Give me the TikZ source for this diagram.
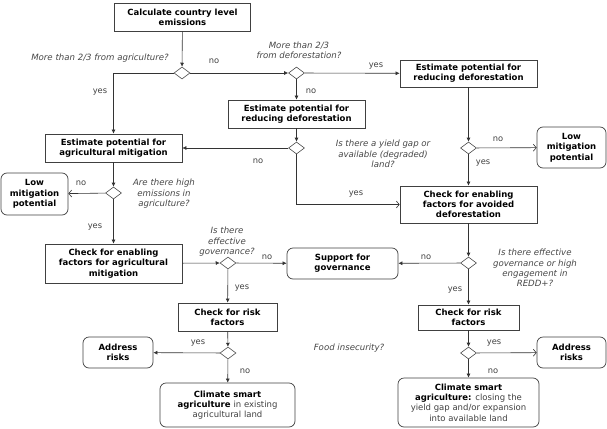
\documentclass[tikz,border=0pt]{standalone}
\usepackage{fontspec}
\setmainfont{DejaVu Sans}
\usetikzlibrary{shapes.geometric, arrows.meta, positioning}

\begin{document}
\begin{tikzpicture}[
  x=1pt, y=-1pt,
  box/.style={draw=black!75, line width=0.7pt, fill=white, align=center, inner sep=1pt,
    font=\bfseries\fontsize{8.5}{10.3}\selectfont},
  rbox/.style={box, rounded corners=6pt},
  dec/.style={diamond, draw=black!70, line width=0.6pt, fill=white, inner sep=0pt,
    minimum width=16pt, minimum height=12pt},
  q/.style={font=\itshape\fontsize{8.6}{10.4}\selectfont, text=black!72, align=center},
  lab/.style={font=\fontsize{8.3}{9}\selectfont, text=black!75},
  arr/.style={draw=black!80, line width=0.6pt, -{Latex[length=4pt,width=4pt]}},
  oarr/.style={draw=black!80, line width=0.6pt, -{Straight Barb[length=3pt,width=7pt]}}
  ]
  \useasboundingbox (0,0) rectangle (607,428);
  % boxes
  \node[box, minimum width=136pt, minimum height=28pt] (calc) at (182.5,17) {Calculate country level\\emissions};
  \node[box, minimum width=137pt, minimum height=27pt] (estR) at (468.5,73.5) {Estimate potential for\\reducing deforestation};
  \node[box, minimum width=137pt, minimum height=28pt] (estM) at (296.5,114) {Estimate potential for\\reducing deforestation};
  \node[box, minimum width=137pt, minimum height=28pt] (agri) at (113.5,148) {Estimate potential for\\agricultural mitigation};
  \node[box, minimum width=137pt, minimum height=37pt] (checkAD) at (468.5,204.5) {Check for enabling\\factors for avoided\\deforestation};
  \node[box, minimum width=137pt, minimum height=39pt] (checkAM) at (113.5,263.5) {Check for enabling\\factors for agricultural\\mitigation};
  \node[box, minimum width=99pt, minimum height=28pt] (checkRL) at (227.5,317) {Check for risk\\factors};
  \node[box, minimum width=101pt, minimum height=25pt] (checkRR) at (468.5,317.5) {Check for risk\\factors};
  \node[rbox, minimum width=69pt, minimum height=41pt] (lowR) at (571.5,147.5) {Low\\mitigation\\potential};
  \node[rbox, minimum width=67pt, minimum height=42pt] (lowL) at (34.5,194) {Low\\mitigation\\potential};
  \node[rbox, minimum width=111pt, minimum height=31pt] (support) at (342.5,263.5) {Support for\\governance};
  \node[rbox, minimum width=70pt, minimum height=31pt] (addrL) at (118,352.5) {Address\\risks};
  \node[rbox, minimum width=69pt, minimum height=31pt] (addrR) at (571.5,352.5) {Address\\risks};
  \node[rbox, minimum width=135pt, minimum height=44pt] (cliL) at (227.5,405)
    {Climate smart\\agriculture {\mdseries\color{black!75} in existing}\\{\mdseries\color{black!75}agricultural land}};
  \node[rbox, minimum width=141pt, minimum height=49pt] (cliR) at (468.5,402.5)
    {Climate smart\\agriculture: {\mdseries\color{black!75} closing the}\\{\mdseries\color{black!75}yield gap and/or expansion}\\{\mdseries\color{black!75}into available land}};
  % decisions
  \node[dec] (d1) at (182,73) {};
  \node[dec] (d2) at (296.5,73) {};
  \node[dec] (d3) at (296.5,148) {};
  \node[dec] (d4) at (468.5,148) {};
  \node[dec] (d5) at (113.5,193) {};
  \node[dec] (d6) at (228,263) {};
  \node[dec] (d7) at (468.5,263) {};
  \node[dec] (d8) at (228,353) {};
  \node[dec] (d9) at (468.5,353) {};
  % questions
  \node[q] (q1) at (100,58) {More than 2/3 from agriculture?};
  \node[q] (q2) at (299,50) {More than 2/3\\from deforestation?};
  \node[q] (q3) at (383,154) {Is there a yield gap or\\available (degraded)\\land?};
  \node[q] (q4) at (164,194) {Are there high\\emissions in\\agriculture?};
  \node[q] (q5) at (227,242) {Is there\\effective\\governance?};
  \node[q] (q6) at (535,268) {Is there effective\\governance or high\\engagement in\\REDD+?};
  \node[q] (q7) at (349,348) {Food insecurity?};
  % connectors
  \draw[arr] (calc) -- (d1);
  \draw[arr] (d1) -- (d2);
  \draw[arr] (d1.west) -| (agri.north);
  \draw[arr] (d2) -- (estR);
  \draw[arr] (d2) -- (estM);
  \draw[arr] (estM) -- (d3);
  \draw[arr] (d3) -- (agri);
  \draw[oarr] (d3.south) |- (checkAD.west);
  \draw[arr] (estR) -- (d4);
  \draw[oarr] (d4) -- (lowR);
  \draw[arr] (d4) -- (checkAD);
  \draw[arr] (agri) -- (d5);
  \draw[oarr] (d5) -- (lowL);
  \draw[arr] (d5) -- (checkAM);
  \draw[arr] (checkAM) -- (d6);
  \draw[arr] (d6) -- (support);
  \draw[arr] (d6) -- (checkRL);
  \draw[arr] (checkAD) -- (d7);
  \draw[arr] (d7) -- (support);
  \draw[arr] (d7) -- (checkRR);
  \draw[arr] (checkRL) -- (d8);
  \draw[arr] (d8) -- (addrL);
  \draw[arr] (d8) -- (cliL);
  \draw[arr] (checkRR) -- (d9);
  \draw[oarr] (d9) -- (addrR);
  \draw[arr] (d9) -- (cliR);
  % yes / no
  \node[lab] (l1) at (214,61) {no};
  \node[lab] (l2) at (100,92) {yes};
  \node[lab] (l3) at (376,66) {yes};
  \node[lab] (l4) at (311,91) {no};
  \node[lab] (l5) at (258,161) {no};
  \node[lab] (l6) at (356,194) {yes};
  \node[lab] (l7) at (498,139) {no};
  \node[lab] (l8) at (483,163) {yes};
  \node[lab] (l9) at (81,183) {no};
  \node[lab] (l10) at (95,227) {yes};
  \node[lab] (l11) at (267,257) {no};
  \node[lab] (l12) at (426,257) {no};
  \node[lab] (l13) at (242,288) {yes};
  \node[lab] (l14) at (455,290) {yes};
  \node[lab] (l15) at (198,343) {yes};
  \node[lab] (l16) at (245,371) {no};
  \node[lab] (l17) at (494,343) {yes};
  \node[lab] (l18) at (493,371) {no};
\end{tikzpicture}
\end{document}
